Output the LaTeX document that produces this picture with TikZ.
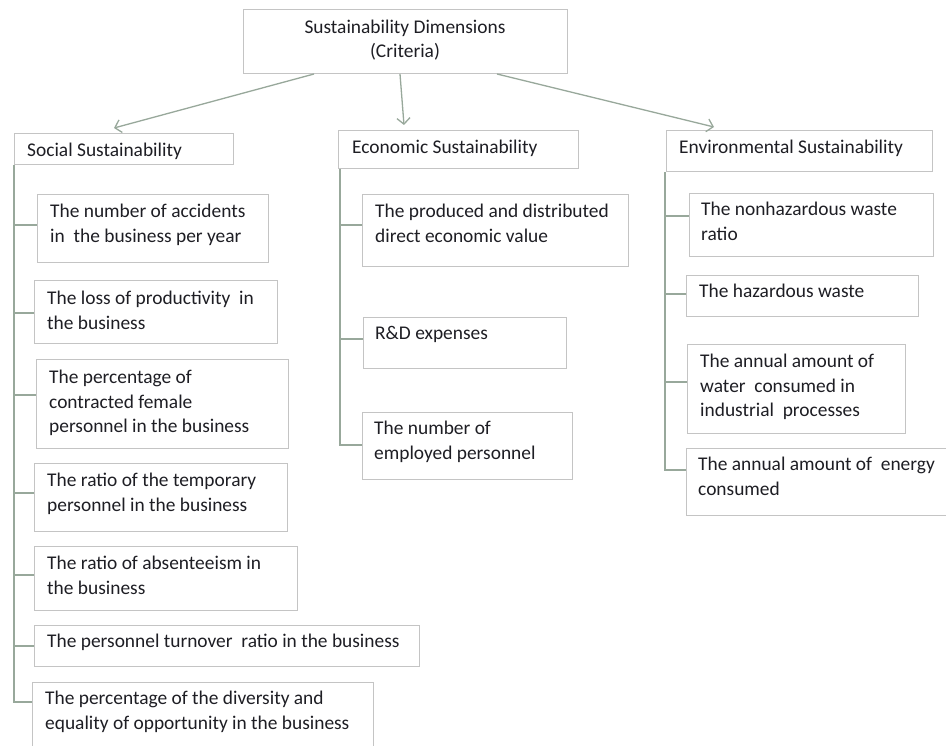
\documentclass[tikz,border=0pt]{standalone}
\usepackage{fontspec}
\setmainfont{Carlito}
\usetikzlibrary{arrows.meta}
\definecolor{boxgray}{RGB}{196,196,196}
\definecolor{linkgray}{RGB}{152,168,155}
\definecolor{txtcol}{RGB}{30,30,36}
\tikzset{
  box/.style={draw=boxgray, line width=1.3pt, anchor=north west, inner sep=0pt, fill=white},
  txt/.style={anchor=north west, inner sep=0pt, align=left, text=txtcol,
    font=\fontsize{19.4}{24.5}\selectfont},
  link/.style={draw=linkgray, line width=1.3pt},
  arr/.style={link, -{Straight Barb[length=6pt,width=13pt,line width=1.3pt]}}
}
\begin{document}
\begin{tikzpicture}[x=1pt,y=-1pt]
\useasboundingbox (0,0) rectangle (946,746);
\clip (0,0) rectangle (946,746);
\fill[white] (0,0) rectangle (946,746);

% top
\node[box, minimum width=324pt, minimum height=64pt] (top) at (243,9) {};
\node[txt, align=center, anchor=center] (toptxt) at (405,40) {Sustainability Dimensions\\(Criteria)};

% headers
\node[box, minimum width=219pt, minimum height=31pt] (soc) at (14,133) {};
\node[txt, anchor=west] (soct) at (27,151) {Social Sustainability};
\node[box, minimum width=240pt, minimum height=38pt] (eco) at (338,130) {};
\node[txt, anchor=west] (ecot) at (352,148) {Economic Sustainability};
\node[box, minimum width=266pt, minimum height=41pt] (env) at (666,130) {};
\node[txt, anchor=west] (envt) at (679,148) {Environmental Sustainability};

% arrows
\coordinate (aL) at (314,74);
\coordinate (aM) at (400,74);
\coordinate (aR) at (497,74);
\draw[arr] (aL) -- (114,128);
\draw[arr] (aM) -- (404,125);
\draw[arr] (aR) -- (714,127);

% social items
\node[box, minimum width=231pt, minimum height=68pt] (s1) at (37,194) {};
\node[txt] at ([shift={(13,10)}]s1.north west) {The number of accidents\\in\ \ the business per year};
\node[box, minimum width=243pt, minimum height=63pt] (s2) at (34,280) {};
\node[txt] at ([shift={(13,11)}]s2.north west) {The loss of productivity\ \ in\\the business};
\node[box, minimum width=252pt, minimum height=89pt] (s3) at (36,359) {};
\node[txt] at ([shift={(13,11)}]s3.north west) {The percentage of\\contracted female\\personnel in the business};
\node[box, minimum width=253pt, minimum height=68pt] (s4) at (34,463) {};
\node[txt] at ([shift={(13,10)}]s4.north west) {The ratio of the temporary\\personnel in the business};
\node[box, minimum width=263pt, minimum height=64pt] (s5) at (34,546) {};
\node[txt] at ([shift={(13,10)}]s5.north west) {The ratio of absenteeism in\\the business};
\node[box, minimum width=385pt, minimum height=41pt] (s6) at (34,625) {};
\node[txt] at ([shift={(13,9)}]s6.north west) {The personnel turnover\ \ ratio in the business};
\node[box, minimum width=341pt, minimum height=70pt] (s7) at (32,682) {};
\node[txt] at ([shift={(13,9)}]s7.north west) {The percentage of the diversity and\\equality of opportunity in the business};

\draw[link] (soc.south west) -- (14,702) -- (s7.west |- 0,702);
\draw[link] (14,225) -- (s1.west |- 0,225);
\draw[link] (14,313) -- (s2.west |- 0,313);
\draw[link] (14,395) -- (s3.west |- 0,395);
\draw[link] (14,493) -- (s4.west |- 0,493);
\draw[link] (14,575) -- (s5.west |- 0,575);
\draw[link] (14,646) -- (s6.west |- 0,646);

% economic items
\node[box, minimum width=266pt, minimum height=72pt] (e1) at (362,194) {};
\node[txt] at ([shift={(13,10)}]e1.north west) {The produced and distributed\\direct economic value};
\node[box, minimum width=203pt, minimum height=51pt] (e2) at (363,317) {};
\node[txt] at ([shift={(12,9)}]e2.north west) {R\&D expenses};
\node[box, minimum width=210pt, minimum height=67pt] (e3) at (362,412) {};
\node[txt] at ([shift={(12,9)}]e3.north west) {The number of\\employed personnel};

\draw[link] ([xshift=2pt]eco.south west) -- (340,445) -- (e3.west |- 0,445);
\draw[link] (340,225) -- (e1.west |- 0,225);
\draw[link] (340,339) -- (e2.west |- 0,339);

% environmental items
\node[box, minimum width=244pt, minimum height=63pt] (v1) at (689,193) {};
\node[txt] at ([shift={(12,9)}]v1.north west) {The nonhazardous waste\\ratio};
\node[box, minimum width=232pt, minimum height=41pt] (v2) at (686,275) {};
\node[txt] at ([shift={(13,9)}]v2.north west) {The hazardous waste};
\node[box, minimum width=218pt, minimum height=89pt] (v3) at (687,344) {};
\node[txt] at ([shift={(13,10)}]v3.north west) {The annual amount of\\water\ \ consumed in\\industrial\ \ processes};
\node[box, minimum width=270pt, minimum height=67pt] (v4) at (686,448) {};
\node[txt] at ([shift={(12,9)}]v4.north west) {The annual amount of\ \ energy\\consumed};

\draw[link] ([xshift=-1pt]env.south west) -- (665,470) -- (v4.west |- 0,470);
\draw[link] (665,216) -- (v1.west |- 0,216);
\draw[link] (665,294) -- (v2.west |- 0,294);
\draw[link] (665,382) -- (v3.west |- 0,382);
\end{tikzpicture}
\end{document}
